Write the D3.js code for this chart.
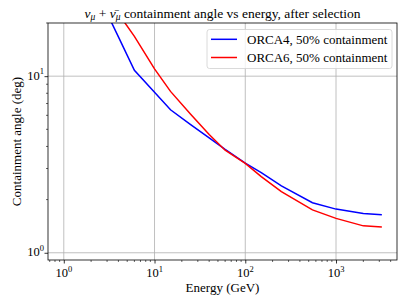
<!DOCTYPE html>
<html><head><meta charset="utf-8">
<script src="https://cdn.jsdelivr.net/npm/d3@7"></script>
<style>body{margin:0;background:#fff}svg{display:block}</style>
</head><body>
<script>
const energies = [3, 4, 6, 10, 15, 25, 40, 60, 100, 150, 250, 550, 1000, 2000, 3200];
const orca4 = [22.7, 16.7, 10.8, 8.11, 6.45, 5.31, 4.47, 3.85, 3.22, 2.84, 2.39, 1.92, 1.767, 1.67, 1.64];
const orca6 = [28.0, 22.6, 16.8, 11.0, 8.2, 6.08, 4.67, 3.81, 3.21, 2.70, 2.22, 1.749, 1.566, 1.42, 1.40];
const seriesNames = ["ORCA4, 50% containment", "ORCA6, 50% containment"];
const seriesColors = ["#0000ff", "#ff0000"];
const xMajor = [1, 10, 100, 1000];
const yMajor = [1, 10];

const FONT = "Liberation Serif";
const W = 407, H = 305;
const m = {l: 48, r: 10, t: 23, b: 45};
const svg = d3.select("body").append("svg").attr("width", W).attr("height", H)
  .attr("font-family", FONT).style("font-family", FONT);
const x = d3.scaleLog().domain([0.67, 4700]).range([m.l, W - m.r]);
const y = d3.scaleLog().domain([0.91, 20]).range([H - m.b, m.t]);
const x0 = m.l, x1 = W - m.r, y0 = H - m.b, y1 = m.t;

svg.append("defs").append("clipPath").attr("id", "clip")
  .append("rect").attr("x", x0).attr("y", y1).attr("width", x1 - x0).attr("height", y0 - y1);

// grid
const g = svg.append("g");
g.selectAll(".gx").data(xMajor).join("line")
  .attr("x1", d => x(d)).attr("x2", d => x(d)).attr("y1", y0).attr("y2", y1)
  .attr("stroke", "#b0b0b0").attr("stroke-width", 0.8);
g.selectAll(".gy").data(yMajor).join("line")
  .attr("y1", d => y(d)).attr("y2", d => y(d)).attr("x1", x0).attr("x2", x1)
  .attr("stroke", "#b0b0b0").attr("stroke-width", 0.8);

// lines
const line = d3.line().x((d, i) => x(energies[i])).y(d => y(d));
[orca4, orca6].forEach((s, k) => {
  svg.append("path").datum(s).attr("d", line).attr("fill", "none")
    .attr("stroke", seriesColors[k]).attr("stroke-width", 1.5)
    .attr("clip-path", "url(#clip)");
});

// axes
function supLabel(sel) {
  sel.each(function(d) {
    const t = d3.select(this); t.text(null);
    t.append("tspan").text("10");
    t.append("tspan").attr("dy", -5.5).attr("font-size", "8.5px").text(Math.round(Math.log10(d)));
  });
}
const xAxis = d3.axisBottom(x).tickValues(xMajor).tickSize(3.5).tickPadding(3).tickFormat(() => "");
const gx = svg.append("g").attr("transform", `translate(0,${y0})`).call(xAxis);
const yAxis = d3.axisLeft(y).tickValues(yMajor).tickSize(3.5).tickPadding(3).tickFormat(() => "");
const gy = svg.append("g").attr("transform", `translate(${x0},0)`).call(yAxis);
[gx, gy].forEach(a => { a.select(".domain").remove(); a.selectAll("line").attr("stroke", "#000").attr("stroke-width", 0.8); a.attr("font-family", null); });

// minor ticks
const xMinor = [];
for (let e = -1; e <= 3; e++) for (let k = 2; k <= 9; k++) { const v = k * Math.pow(10, e); if (v > 0.67 && v < 4700) xMinor.push(v); }
const yMinor = [];
for (let e = -1; e <= 1; e++) for (let k = 2; k <= 9; k++) { const v = k * Math.pow(10, e); if (v > 0.91 && v < 20.01) yMinor.push(v); }
svg.append("g").selectAll("line").data(xMinor).join("line")
  .attr("x1", d => x(d)).attr("x2", d => x(d)).attr("y1", y0).attr("y2", y0 + 2)
  .attr("stroke", "#000").attr("stroke-width", 0.6);
svg.append("g").selectAll("line").data(yMinor).join("line")
  .attr("y1", d => y(d)).attr("y2", d => y(d)).attr("x1", x0).attr("x2", x0 - 2)
  .attr("stroke", "#000").attr("stroke-width", 0.6);

// tick labels
svg.append("g").selectAll("text").data(xMajor).join("text")
  .attr("x", d => x(d)).attr("y", y0 + 17).attr("text-anchor", "middle").attr("font-size", "12.5px").call(supLabel);
svg.append("g").selectAll("text").data(yMajor).join("text")
  .attr("x", x0 - 4).attr("y", d => y(d) + 3.5).attr("text-anchor", "end").attr("font-size", "12.5px").call(supLabel);

// frame
svg.append("rect").attr("x", x0).attr("y", y1).attr("width", x1 - x0).attr("height", y0 - y1)
  .attr("fill", "none").attr("stroke", "#000").attr("stroke-width", 0.8);

// labels
svg.append("text").attr("x", (x0 + x1) / 2).attr("y", 292).attr("text-anchor", "middle").attr("font-size", "13px").text("Energy (GeV)");
svg.append("text").attr("transform", `translate(21,${(y0 + y1) / 2}) rotate(-90)`).attr("text-anchor", "middle").attr("font-size", "13px").text("Containment angle (deg)");

// title
const title = svg.append("text").attr("x", (x0 + x1) / 2).attr("y", 17.5).attr("text-anchor", "middle").attr("font-size", "13.5px");
title.append("tspan").attr("font-style", "italic").text("ν");
title.append("tspan").attr("font-style", "italic").attr("font-size", "9.5px").attr("dy", 2.5).text("μ");
title.append("tspan").attr("dy", -2.5).text(" + ");
title.append("tspan").attr("font-style", "italic").text("ν\u0304");
title.append("tspan").attr("font-style", "italic").attr("font-size", "9.5px").attr("dy", 2.5).text("μ");
title.append("tspan").attr("dy", -2.5).text(" containment angle vs energy, after selection");

// legend
const lg = svg.append("g");
lg.append("rect").attr("x", 207).attr("y", 29.5).attr("width", 185).attr("height", 39).attr("rx", 2.5)
  .attr("fill", "#fff").attr("fill-opacity", 0.8).attr("stroke", "#d0d0d0").attr("stroke-width", 0.8);
seriesNames.forEach((n, i) => {
  const yy = 39.3 + i * 18.2;
  lg.append("line").attr("x1", 211).attr("x2", 237).attr("y1", yy).attr("y2", yy)
    .attr("stroke", seriesColors[i]).attr("stroke-width", 1.5);
  lg.append("text").attr("x", 247).attr("y", yy + 4.2).attr("font-size", "13px").text(n);
});
</script>
</body></html>
